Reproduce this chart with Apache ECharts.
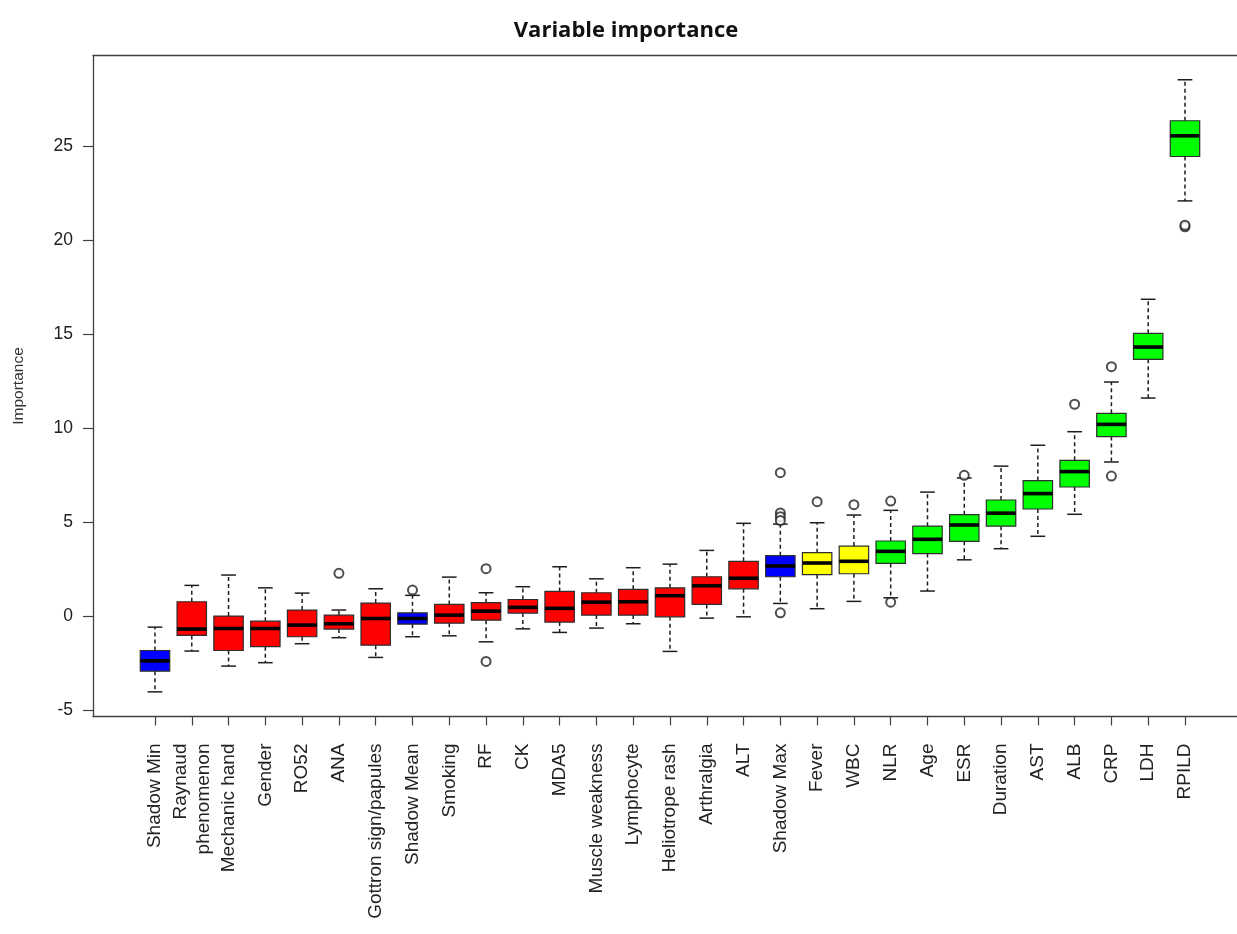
<!DOCTYPE html>
<html>
<head>
<meta charset="utf-8">
<title>Variable importance</title>
<script src="https://cdn.jsdelivr.net/npm/echarts@6/dist/echarts.min.js"></script>
<style>
  html, body { margin: 0; padding: 0; background: #ffffff; }
  #chart { width: 1237px; height: 934px; }
</style>
</head>
<body>
<div id="chart"></div>
<script>
// Boruta-style importance boxplots, one box per variable (ordered by median).
const categories = [
  'Shadow Min', 'Raynaud\nphenomenon', 'Mechanic hand', 'Gender', 'RO52', 'ANA',
  'Gottron sign/papules', 'Shadow Mean', 'Smoking', 'RF', 'CK', 'MDA5',
  'Muscle weakness', 'Lymphocyte', 'Heliotrope rash', 'Arthralgia', 'ALT',
  'Shadow Max', 'Fever', 'WBC', 'NLR', 'Age', 'ESR', 'Duration', 'AST',
  'ALB', 'CRP', 'LDH', 'RPILD'
];

const lowerWhisker = [-4.01, -1.84, -2.64, -2.46, -1.45, -1.13, -2.18, -1.08, -1.03, -1.35,
  -0.66, -0.85, -0.62, -0.39, -1.86, -0.09, -0.02, 0.69, 0.41, 0.80,
  0.99, 1.35, 3.01, 3.60, 4.26, 5.43, 8.21, 11.61, 22.09];
const q1 = [-2.91, -1.01, -1.81, -1.61, -1.08, -0.67, -1.53, -0.41, -0.36, -0.20,
  0.18, -0.30, 0.07, 0.07, -0.02, 0.64, 1.47, 2.11, 2.22, 2.27,
  2.82, 3.34, 3.99, 4.80, 5.71, 6.88, 9.56, 13.67, 24.45];
const median = [-2.36, -0.67, -0.64, -0.64, -0.46, -0.39, -0.11, -0.11, 0.07, 0.28,
  0.48, 0.43, 0.76, 0.78, 1.10, 1.63, 2.03, 2.68, 2.84, 2.93,
  3.46, 4.10, 4.86, 5.49, 6.53, 7.70, 10.21, 14.32, 25.55];
const q3 = [-1.81, 0.78, 0.02, -0.25, 0.34, 0.07, 0.71, 0.19, 0.64, 0.73,
  0.90, 1.33, 1.26, 1.44, 1.52, 2.11, 2.93, 3.23, 3.39, 3.74,
  4.01, 4.80, 5.41, 6.19, 7.22, 8.30, 10.80, 15.05, 26.35];
const upperWhisker = [-0.57, 1.65, 2.20, 1.52, 1.24, 0.34, 1.47, 1.12, 2.09, 1.26,
  1.58, 2.64, 2.00, 2.59, 2.78, 3.51, 4.95, 4.91, 4.98, 5.39,
  5.64, 6.61, 7.36, 7.99, 9.10, 9.82, 12.46, 16.86, 28.53];

// Decision group of each variable
const groups = ['shadow', 'rejected', 'rejected', 'rejected', 'rejected', 'rejected',
  'rejected', 'shadow', 'rejected', 'rejected', 'rejected', 'rejected',
  'rejected', 'rejected', 'rejected', 'rejected', 'rejected',
  'shadow', 'tentative', 'tentative', 'confirmed', 'confirmed', 'confirmed',
  'confirmed', 'confirmed', 'confirmed', 'confirmed', 'confirmed', 'confirmed'];

// Outlying runs: [position (1-based), importance]
const outlierPos = [6, 8, 10, 10, 18, 18, 18, 18, 18, 19, 20, 21, 21, 23, 26, 27, 27, 29, 29];
const outlierVal = [2.29, 1.40, 2.54, -2.39, 7.64, 5.50, 5.30, 5.10, 0.19, 6.10, 5.94,
  6.13, 0.76, 7.50, 11.28, 13.28, 7.46, 20.71, 20.80];

const yTicks = [-5, 0, 5, 10, 15, 20, 25];

const groupColor = { shadow: '#0000ff', rejected: '#ff0000', tentative: '#ffff00', confirmed: '#00ff00' };

const positions = categories.map((c, i) => i + 1);
const boxData = categories.map((c, i) => [i + 1, lowerWhisker[i], q1[i], median[i], q3[i], upperWhisker[i]]);
const outlierData = outlierPos.map((p, i) => [p, outlierVal[i]]);

const INK = '#1e1e1e';
const FRAME = '#404040';
const X_MIN = -0.685;
const X_MAX = 30.414;

function renderBox(params, api) {
  const x = api.value(0);
  const lo = api.coord([x, api.value(1)]);
  const b1 = api.coord([x, api.value(2)]);
  const md = api.coord([x, api.value(3)]);
  const b3 = api.coord([x, api.value(4)]);
  const hi = api.coord([x, api.value(5)]);
  const cx = lo[0];
  const half = api.size([0.8, 0])[0] / 2;
  const cap = half / 2;
  const dash = { stroke: INK, lineWidth: 1.5, lineDash: [4, 3] };
  const solid = { stroke: INK, lineWidth: 1.5 };
  return {
    type: 'group',
    children: [
      { type: 'line', shape: { x1: cx, y1: b3[1], x2: cx, y2: hi[1] }, style: dash },
      { type: 'line', shape: { x1: cx, y1: b1[1], x2: cx, y2: lo[1] }, style: dash },
      { type: 'line', shape: { x1: cx - cap, y1: hi[1], x2: cx + cap, y2: hi[1] }, style: solid },
      { type: 'line', shape: { x1: cx - cap, y1: lo[1], x2: cx + cap, y2: lo[1] }, style: solid },
      {
        type: 'rect',
        shape: { x: cx - half, y: b3[1], width: half * 2, height: b1[1] - b3[1] },
        style: { fill: groupColor[groups[params.dataIndex]], stroke: '#2e2e2e', lineWidth: 1.2 }
      },
      { type: 'line', shape: { x1: cx - half, y1: md[1], x2: cx + half, y2: md[1] }, style: { stroke: '#000000', lineWidth: 3.6 } }
    ]
  };
}

const chart = echarts.init(document.getElementById('chart'), null, { renderer: 'canvas' });

chart.setOption({
  backgroundColor: '#ffffff',
  animation: false,
  title: {
    text: 'Variable importance',
    left: 621,
    textAlign: 'center',
    top: 15,
    textStyle: { fontFamily: 'Open Sans', fontWeight: 'bold', fontSize: 22, color: '#111111' }
  },
  grid: {
    left: 93,
    right: 0,
    top: 55.5,
    bottom: 217.5,
    show: false
  },
  xAxis: [
    {
      type: 'value',
      position: 'bottom',
      min: X_MIN,
      max: X_MAX,
      axisLine: { show: true, onZero: false, lineStyle: { color: FRAME, width: 1.3 } },
      splitLine: { show: false },
      axisTick: {
        show: true,
        customValues: positions,
        length: 9,
        lineStyle: { color: FRAME, width: 1.2 }
      },
      axisLabel: {
        customValues: positions,
        rotate: 90,
        margin: 27,
        fontFamily: 'Liberation Sans',
        fontSize: 19,
        lineHeight: 23,
        color: '#222222',
        formatter: v => categories[Math.round(v) - 1] || ''
      }
    },
    {
      // top edge of the plot frame
      type: 'value',
      position: 'top',
      min: X_MIN,
      max: X_MAX,
      axisLine: { show: true, onZero: false, lineStyle: { color: FRAME, width: 1.3 } },
      axisTick: { show: false },
      axisLabel: { show: false },
      splitLine: { show: false }
    }
  ],
  yAxis: {
    type: 'value',
    min: -5.32,
    max: 29.82,
    name: 'Importance',
    nameLocation: 'middle',
    nameGap: 66,
    nameRotate: 90,
    nameTextStyle: { fontFamily: 'Liberation Sans', fontSize: 15.5, color: '#333333' },
    axisLine: { show: true, onZero: false, lineStyle: { color: FRAME, width: 1.3 } },
    splitLine: { show: false },
    axisTick: {
      show: true,
      customValues: yTicks,
      length: 10,
      lineStyle: { color: FRAME, width: 1.2 }
    },
    axisLabel: {
      customValues: yTicks,
      margin: 20,
      fontFamily: 'Liberation Sans',
      fontSize: 17.5,
      color: '#222222'
    }
  },
  series: [
    {
      type: 'custom',
      name: 'Importance',
      renderItem: renderBox,
      encode: { x: 0, y: [1, 2, 3, 4, 5] },
      data: boxData,
      z: 2
    },
    {
      type: 'scatter',
      name: 'Outliers',
      data: outlierData,
      symbol: 'emptyCircle',
      symbolSize: 9,
      itemStyle: { color: '#222222', borderColor: '#222222', borderWidth: 1.3 },
      z: 3
    }
  ]
});
</script>
</body>
</html>
